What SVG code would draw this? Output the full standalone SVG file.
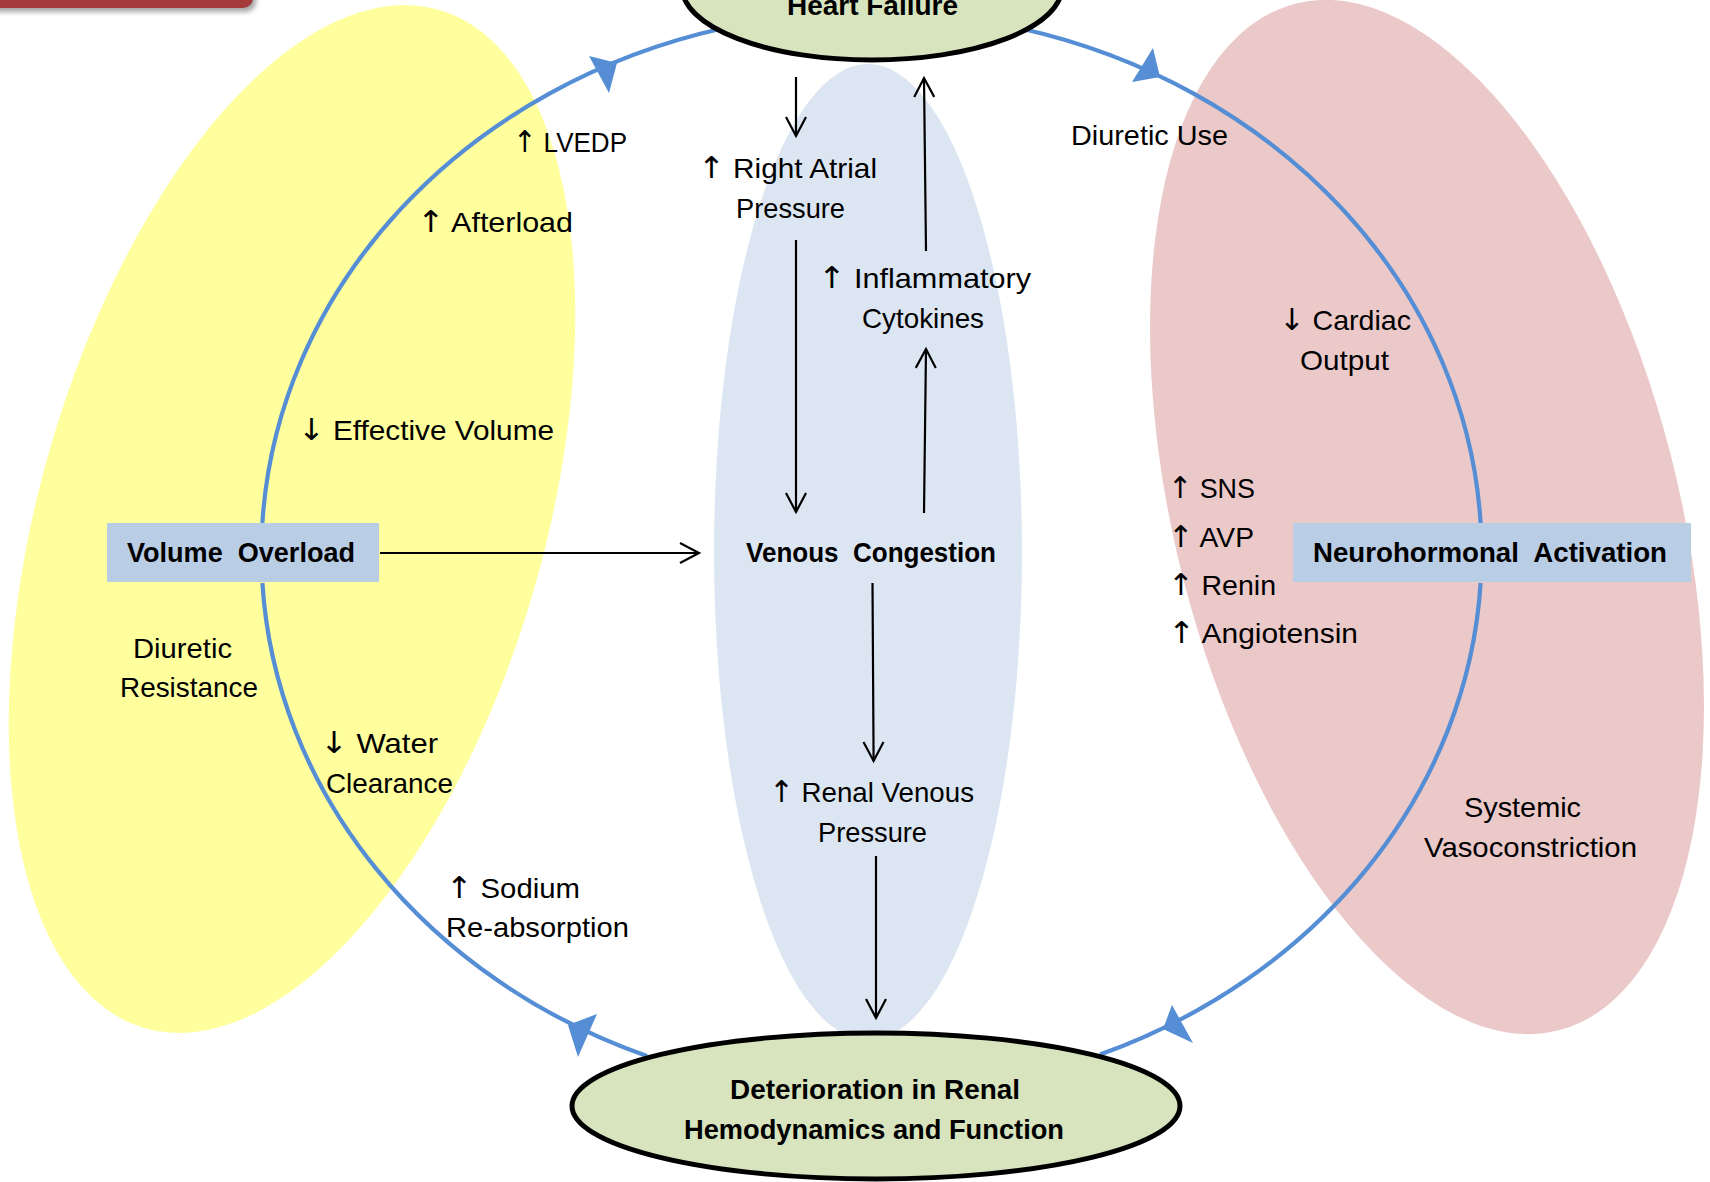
<svg xmlns="http://www.w3.org/2000/svg" width="1710" height="1182" viewBox="0 0 1710 1182">
  <style>
    .lbl { font-family: "Liberation Sans", Arial, sans-serif; font-size: 28px; fill: #000; }
    .bold { font-family: "Liberation Sans", Arial, sans-serif; font-size: 28px; font-weight: bold; fill: #000; }
    .ar { font-family: "DejaVu Sans", sans-serif; font-size: 30px; }
    .cycle { fill: none; stroke: #558ED5; stroke-width: 4.2; }
    .cyclehead { fill: #558ED5; }
    .flow { fill: none; stroke: #000; stroke-width: 2.2; marker-end: url(#open); }
    .oval { fill: #D7E4BD; stroke: #000; stroke-width: 5; }
    .box { fill: #B9CDE5; }
  </style>
  <defs>
    <marker id="open" markerUnits="userSpaceOnUse" viewBox="-21 -12 24 24" refX="0" refY="0" markerWidth="24" markerHeight="24" orient="auto">
      <path d="M-19,-10 L0,0 L-19,10" fill="none" stroke="#000" stroke-width="2.2"/>
    </marker>
    <filter id="shadow" x="-10%" y="-50%" width="120%" height="200%">
      <feGaussianBlur stdDeviation="2.5"/>
    </filter>
  </defs>

  <rect width="1710" height="1182" fill="#fff"/>

  <!-- title bar fragment, top left -->
  <g id="title-bar">
    <rect x="-20" y="-40" width="276" height="52" rx="10" fill="#000" opacity="0.35" filter="url(#shadow)"/>
    <rect x="-20" y="-40" width="273" height="48" rx="10" fill="#A43A3A"/>
  </g>

  <!-- background zones -->
  <g id="zones">
    <ellipse id="zone-volume" cx="292" cy="519" rx="530" ry="252" transform="rotate(-73.9 292 519)" fill="#FFFF9E"/>
    <ellipse id="zone-neuro" cx="1427" cy="517" rx="530" ry="251.5" transform="rotate(75.6 1427 517)" fill="#EBC9C9"/>
    <ellipse id="zone-venous" cx="868" cy="552" rx="154" ry="488" fill="#DCE6F2"/>
  </g>

  <!-- connectors -->
  <g id="connectors">
    <!-- outer clockwise cycle -->
    <path class="cycle" d="M262.4,523 A610,541 0 0 1 722,28.5"/>
    <path class="cycle" d="M1021,28.5 A610,541 0 0 1 1480.6,523"/>
    <path class="cycle" d="M1480.6,583 A610,541 0 0 1 1100,1054.6"/>
    <path class="cycle" d="M647,1056 A610,541 0 0 1 262.4,583"/>
    <polygon class="cyclehead" points="589,56 617,63 609,93"/>
    <polygon class="cyclehead" points="1153,48 1160,77 1132,82"/>
    <polygon class="cyclehead" points="568,1025 597,1014 578,1057"/>
    <polygon class="cyclehead" points="1172,1005 1193,1043 1163,1029"/>

    <!-- central pathway -->
    <path class="flow" d="M380,553 L699,553"/>
    <path class="flow" d="M796,77 L796,136"/>
    <path class="flow" d="M796,240 L796,512"/>
    <path class="flow" d="M924,513 L926,349"/>
    <path class="flow" d="M926,251 L924,78"/>
    <path class="flow" d="M872.5,583 L873.6,761"/>
    <path class="flow" d="M876,856 L876,1018"/>
  </g>

  <!-- nodes -->
  <g id="heart-failure">
    <ellipse class="oval" cx="872" cy="-13" rx="190" ry="73"/>
    <text class="bold" x="787" y="15" textLength="171" lengthAdjust="spacingAndGlyphs">Heart Failure</text>
  </g>

  <g id="renal-deterioration">
    <ellipse class="oval" cx="876" cy="1106" rx="304" ry="73"/>
    <text class="bold" x="730" y="1099" textLength="290" lengthAdjust="spacingAndGlyphs">Deterioration in Renal</text>
    <text class="bold" x="684" y="1139" textLength="380" lengthAdjust="spacingAndGlyphs">Hemodynamics and Function</text>
  </g>

  <g id="volume-overload">
    <rect class="box" x="107" y="523" width="272" height="59"/>
    <text class="bold" x="127" y="562" textLength="228" lengthAdjust="spacingAndGlyphs" xml:space="preserve">Volume  Overload</text>
  </g>

  <g id="neurohormonal-activation">
    <rect class="box" x="1293" y="523" width="398" height="59"/>
    <text class="bold" x="1313" y="562" textLength="354" lengthAdjust="spacingAndGlyphs" xml:space="preserve">Neurohormonal  Activation</text>
  </g>

  <g id="venous-congestion">
    <text class="bold" x="746" y="562" textLength="250" lengthAdjust="spacingAndGlyphs" xml:space="preserve">Venous  Congestion</text>
  </g>

  <g id="right-atrial-pressure">
    <text class="lbl" x="698" y="178" textLength="179" lengthAdjust="spacingAndGlyphs"><tspan class="ar">↑</tspan> Right Atrial</text>
    <text class="lbl" x="736" y="218" textLength="109" lengthAdjust="spacingAndGlyphs">Pressure</text>
  </g>

  <g id="inflammatory-cytokines">
    <text class="lbl" x="818" y="288" textLength="213" lengthAdjust="spacingAndGlyphs"><tspan class="ar">↑</tspan> Inflammatory</text>
    <text class="lbl" x="862" y="328" textLength="122" lengthAdjust="spacingAndGlyphs">Cytokines</text>
  </g>

  <g id="renal-venous-pressure">
    <text class="lbl" x="769" y="802" textLength="205" lengthAdjust="spacingAndGlyphs"><tspan class="ar">↑</tspan> Renal Venous</text>
    <text class="lbl" x="818" y="842" textLength="109" lengthAdjust="spacingAndGlyphs">Pressure</text>
  </g>

  <!-- labels along the cycle -->
  <g id="volume-labels">
    <text class="lbl" x="513" y="152" textLength="114" lengthAdjust="spacingAndGlyphs"><tspan class="ar">↑</tspan> LVEDP</text>
    <text class="lbl" x="417" y="232" textLength="156" lengthAdjust="spacingAndGlyphs"><tspan class="ar">↑</tspan> Afterload</text>
    <text class="lbl" x="298" y="440" textLength="256" lengthAdjust="spacingAndGlyphs"><tspan class="ar">↓</tspan> Effective Volume</text>
    <text class="lbl" x="133" y="658" textLength="99" lengthAdjust="spacingAndGlyphs">Diuretic</text>
    <text class="lbl" x="120" y="697" textLength="138" lengthAdjust="spacingAndGlyphs">Resistance</text>
    <text class="lbl" x="320" y="753" textLength="118" lengthAdjust="spacingAndGlyphs"><tspan class="ar">↓</tspan> Water</text>
    <text class="lbl" x="326" y="793" textLength="127" lengthAdjust="spacingAndGlyphs">Clearance</text>
    <text class="lbl" x="446" y="898" textLength="134" lengthAdjust="spacingAndGlyphs"><tspan class="ar">↑</tspan> Sodium</text>
    <text class="lbl" x="446" y="937" textLength="183" lengthAdjust="spacingAndGlyphs">Re-absorption</text>
  </g>

  <g id="neuro-labels">
    <text class="lbl" x="1071" y="145" textLength="157" lengthAdjust="spacingAndGlyphs">Diuretic Use</text>
    <text class="lbl" x="1279" y="330" textLength="132" lengthAdjust="spacingAndGlyphs"><tspan class="ar">↓</tspan> Cardiac</text>
    <text class="lbl" x="1300" y="370" textLength="89" lengthAdjust="spacingAndGlyphs">Output</text>
    <text class="lbl" x="1168" y="498" textLength="87" lengthAdjust="spacingAndGlyphs"><tspan class="ar">↑</tspan> SNS</text>
    <text class="lbl" x="1168" y="547" textLength="86" lengthAdjust="spacingAndGlyphs"><tspan class="ar">↑</tspan> AVP</text>
    <text class="lbl" x="1168" y="595" textLength="108" lengthAdjust="spacingAndGlyphs"><tspan class="ar">↑</tspan> Renin</text>
    <text class="lbl" x="1168" y="643" textLength="190" lengthAdjust="spacingAndGlyphs"><tspan class="ar">↑</tspan> Angiotensin</text>
    <text class="lbl" x="1464" y="817" textLength="117" lengthAdjust="spacingAndGlyphs">Systemic</text>
    <text class="lbl" x="1424" y="857" textLength="213" lengthAdjust="spacingAndGlyphs">Vasoconstriction</text>
  </g>
</svg>
